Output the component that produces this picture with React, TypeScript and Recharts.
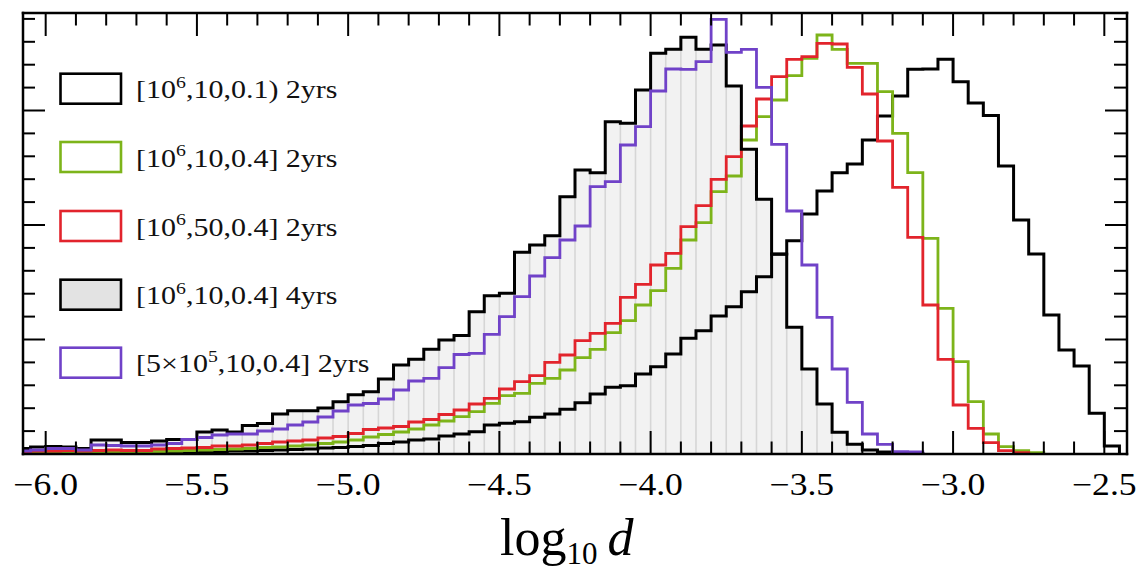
import { ComposedChart, Line, Area, XAxis, YAxis, ReferenceLine } from "recharts";

const W = 1140;
const H = 574;
const SERIF = "'Liberation Serif', 'Times New Roman', serif";

// left edge of every 0.05-wide bin (last entry closes the final bin)
const binEdges = [
  -6.1, -6.05, -6.0, -5.95, -5.9, -5.85, -5.8, -5.75, -5.7, -5.65,
  -5.6, -5.55, -5.5, -5.45, -5.4, -5.35, -5.3, -5.25, -5.2, -5.15,
  -5.1, -5.05, -5.0, -4.95, -4.9, -4.85, -4.8, -4.75, -4.7, -4.65,
  -4.6, -4.55, -4.5, -4.45, -4.4, -4.35, -4.3, -4.25, -4.2, -4.15,
  -4.1, -4.05, -4.0, -3.95, -3.9, -3.85, -3.8, -3.75, -3.7, -3.65,
  -3.6, -3.55, -3.5, -3.45, -3.4, -3.35, -3.3, -3.25, -3.2, -3.15,
  -3.1, -3.05, -3.0, -2.95, -2.9, -2.85, -2.8, -2.75, -2.7, -2.65,
  -2.6, -2.55, -2.5, -2.45, -2.4,
];

// [1e6,10,0.1) 2yrs
const black2yr = [
  0.5, 1, 1, 1, 1, 1, 1, 1.5, 1.5, 1.5,
  2, 2, 2, 2.5, 3, 3, 3.5, 4, 4.5, 5,
  6, 6.5, 7.5, 8.5, 10.5, 12, 14, 15, 18, 20,
  22.3, 29, 30.7, 32.3, 36.7, 40, 44.7, 51.3, 60, 66.7,
  68.3, 80, 87.3, 100, 115.7, 123.3, 138, 147.3, 162.3, 177.3,
  200, 213.3, 240, 263, 281.3, 290, 314, 338, 358, 384.7,
  385, 394.7, 372.3, 351, 338.5, 288, 234, 200, 139, 104,
  88, 40.7, 8, 0,
];

// [1e6,10,0.4] 2yrs
const green2yr = [
  1, 1.5, 1.5, 1.5, 1.5, 2, 2, 2, 2.5, 2.5,
  3, 3.5, 4, 4.5, 5, 5.5, 6.5, 7, 8, 9,
  10.5, 12, 14, 17, 19.5, 22, 25, 29, 33, 37.3,
  42.3, 50.7, 58.3, 60.7, 70.7, 75.7, 84, 96.3, 104.7, 121.3,
  133.3, 149, 163.3, 185.7, 214, 231.3, 262.3, 278, 314, 337.3,
  354, 378.3, 395.7, 419, 404.7, 390.7, 390.7, 362.3, 320.7, 281.3,
  215.7, 145.7, 92.3, 52.3, 20, 7.3, 3.3, 1.3, 0,
];

// [1e6,50,0.4] 2yrs
const red2yr = [
  2.5, 3, 3, 3.5, 3, 3.5, 4, 3.5, 3.5, 5,
  5.5, 6, 6.5, 8, 8, 9, 10.5, 12, 13, 14,
  16, 17.5, 20.5, 24.5, 26, 27.5, 32, 34.5, 39.5, 44,
  50, 55.7, 65, 72.3, 78.3, 91.7, 99, 113.3, 120.7, 130.7,
  156.7, 169.7, 189, 200.7, 227.3, 248.3, 274.7, 297.3, 328, 355,
  377.3, 394.7, 397.3, 410.7, 410, 386.7, 360, 313, 266.7, 216.7,
  149, 94.7, 49, 25.7, 11.3, 3.3, 1.3, 0,
];

// [1e6,10,0.4] 4yrs (filled)
const black4yr = [
  5.5, 7, 7.5, 7, 5.5, 14, 14, 11.5, 11.5, 13,
  14.5, 14.5, 22, 24, 22, 28.5, 30.5, 40, 43.3, 43.3,
  46, 52.3, 59.3, 62.3, 75, 89, 94.7, 104.7, 114, 118.5,
  142.3, 158.3, 160.7, 201.7, 209, 218.3, 257.3, 284, 281.3, 332.3,
  330.7, 364, 400.7, 404.7, 416.7, 404.7, 409, 368, 304.7, 254.7,
  199.7, 126.7, 85, 50, 21.7, 9.7, 4, 2, 1, 0.5,
  0,
];

// [5e5,10,0.4] 2yrs
const purple2yr = [
  3, 4, 5.5, 5.5, 4, 9, 8.5, 8, 8, 9,
  10.5, 14.5, 16.5, 19, 20, 20, 23, 25, 29, 32,
  37, 43, 49, 50.5, 55, 64, 73, 75.7, 86.3, 99.5,
  100.7, 119.7, 137.3, 157.3, 178, 196.3, 214, 228, 267.3, 272.3,
  309, 327.3, 363, 385, 384.7, 392.3, 434.7, 401.7, 404.7, 366.7,
  309.7, 243, 189, 136.7, 85, 51.7, 20, 9.7, 2.3, 2,
  0,
];

const xTicks = [
  -6.0, -5.9, -5.8, -5.7, -5.6, -5.5, -5.4, -5.3, -5.2, -5.1,
  -5.0, -4.9, -4.8, -4.7, -4.6, -4.5, -4.4, -4.3, -4.2, -4.1,
  -4.0, -3.9, -3.8, -3.7, -3.6, -3.5, -3.4, -3.3, -3.2, -3.1,
  -3.0, -2.9, -2.8, -2.7, -2.6, -2.5,
];
const xMajor = [-6.0, -5.5, -5.0, -4.5, -4.0, -3.5, -3.0, -2.5];
const xLabels = ["−6.0", "−5.5", "−5.0", "−4.5", "−4.0", "−3.5", "−3.0", "−2.5"];

const yTicks = [
  0, 22.9, 45.8, 68.7, 91.6, 114.5, 137.4, 160.3, 183.2, 206.1,
  229, 251.9, 274.8, 297.7, 320.6, 343.5, 366.4, 389.3, 412.2, 435.1,
];
const yMajor = [0, 114.5, 229, 343.5];

const legendItems = [
  { pre: "[10", sup: "6", post: ",10,0.1) 2yrs", color: "#000000", fill: "none" },
  { pre: "[10", sup: "6", post: ",10,0.4] 2yrs", color: "#7db41a", fill: "none" },
  { pre: "[10", sup: "6", post: ",50,0.4] 2yrs", color: "#e2242c", fill: "none" },
  { pre: "[10", sup: "6", post: ",10,0.4] 4yrs", color: "#000000", fill: "#e3e3e3" },
  { pre: "[5×10", sup: "5", post: ",10,0.4] 2yrs", color: "#7042c8", fill: "none" },
];

const rows = binEdges.map((x, i) => ({
  x,
  black2yr: black2yr[i] ?? null,
  green2yr: green2yr[i] ?? null,
  red2yr: red2yr[i] ?? null,
  black4yr: black4yr[i] ?? null,
  purple2yr: purple2yr[i] ?? null,
}));

// light bar edges inside the filled histogram
const edgeLines = binEdges
  .map((x, i) => ({ x, top: i > 0 ? Math.max(black4yr[i - 1] ?? 0, black4yr[i] ?? 0) : 0 }))
  .filter((e) => e.top > 0 && e.x > -6.075);

const frameLine = { stroke: "#000", strokeWidth: 2.5, strokeLinecap: "square" as const };

const BottomTick = (props: any) => {
  const { x, y, payload } = props;
  const i = xMajor.indexOf(payload.value);
  const len = i >= 0 ? 23 : 12.5;
  return (
    <g>
      <line x1={x} x2={x} y1={y} y2={y - len} stroke="#000" strokeWidth={2} />
      {i >= 0 && (
        <text transform={`translate(${x},${y + 41}) scale(1.15,1)`} textAnchor="middle"
          fontFamily={SERIF} fontSize={31} fill="#000">
          {xLabels[i]}
        </text>
      )}
    </g>
  );
};

const TopTick = (props: any) => {
  const { x, y, payload } = props;
  const len = xMajor.includes(payload.value) ? 23 : 12.5;
  return <line x1={x} x2={x} y1={y} y2={y + len} stroke="#000" strokeWidth={2} />;
};

const LeftTick = (props: any) => {
  const { x, y, payload } = props;
  const len = yMajor.includes(payload.value) ? 22 : 12;
  return <line x1={x} x2={x + len} y1={y} y2={y} stroke="#000" strokeWidth={2} />;
};

const RightTick = (props: any) => {
  const { x, y, payload } = props;
  const len = yMajor.includes(payload.value) ? 22 : 13;
  return <line x1={x} x2={x - len} y1={y} y2={y} stroke="#000" strokeWidth={2} />;
};

const legendY = [88.7, 157, 226, 294.7, 362.7];

export default function App() {
  return (
    <div style={{ position: "absolute", left: 0, top: 0, width: W, height: H, background: "#fff" }}>
      <ComposedChart width={W} height={H} data={rows} margin={{ top: 0, right: 0, bottom: 0, left: 0 }}>
        <XAxis xAxisId="b" dataKey="x" type="number" orientation="bottom" domain={[-6.075, -2.425]}
          allowDataOverflow ticks={xTicks} interval={0} tickSize={0} tickMargin={0} tickLine={false}
          axisLine={frameLine} tick={<BottomTick />} height={120} />
        <XAxis xAxisId="t" dataKey="x" type="number" orientation="top" domain={[-6.075, -2.425]}
          allowDataOverflow ticks={xTicks} interval={0} tickSize={0} tickMargin={0} tickLine={false}
          axisLine={frameLine} tick={<TopTick />} height={13} />
        <YAxis yAxisId="l" type="number" domain={[0, 441]} allowDataOverflow ticks={yTicks}
          interval={0} tickSize={0} tickMargin={0} tickLine={false} axisLine={frameLine}
          tick={<LeftTick />} width={23} />
        <YAxis yAxisId="r" orientation="right" type="number" domain={[0, 441]} allowDataOverflow
          ticks={yTicks} interval={0} tickSize={0} tickMargin={0} tickLine={false} axisLine={frameLine}
          tick={<RightTick />} width={13} />

        <Area xAxisId="b" yAxisId="l" type="stepAfter" dataKey="black4yr" stroke="none"
          fill="#f2f2f2" fillOpacity={1} isAnimationActive={false} dot={false} activeDot={false} />
        {edgeLines.map((e) => (
          <ReferenceLine key={e.x} xAxisId="b" yAxisId="l" ifOverflow="hidden"
            segment={[{ x: e.x, y: 0 }, { x: e.x, y: e.top }]} stroke="#d6d6d6" strokeWidth={1.6} />
        ))}

        <Line xAxisId="b" yAxisId="l" type="stepAfter" dataKey="black2yr" stroke="#000" strokeWidth={3}
          strokeLinejoin="miter" dot={false} activeDot={false} isAnimationActive={false} />
        <Line xAxisId="b" yAxisId="l" type="stepAfter" dataKey="green2yr" stroke="#7db41a" strokeWidth={2.8}
          strokeLinejoin="miter" dot={false} activeDot={false} isAnimationActive={false} />
        <Line xAxisId="b" yAxisId="l" type="stepAfter" dataKey="red2yr" stroke="#e2242c" strokeWidth={2.8}
          strokeLinejoin="miter" dot={false} activeDot={false} isAnimationActive={false} />
        <Line xAxisId="b" yAxisId="l" type="stepAfter" dataKey="black4yr" stroke="#000" strokeWidth={3}
          strokeLinejoin="miter" dot={false} activeDot={false} isAnimationActive={false} />
        <Line xAxisId="b" yAxisId="l" type="stepAfter" dataKey="purple2yr" stroke="#7042c8" strokeWidth={2.8}
          strokeLinejoin="miter" dot={false} activeDot={false} isAnimationActive={false} />
      </ComposedChart>

      <svg width={W} height={H} style={{ position: "absolute", left: 0, top: 0, pointerEvents: "none" }}>
        {legendItems.map((it, k) => {
          const cy = legendY[k];
          return (
            <g key={k}>
              <rect x={60.5} y={cy - 15} width={60.5} height={30} fill={it.fill === "none" ? "#fff" : it.fill}
                stroke={it.color} strokeWidth={2.6} />
              <text transform={`translate(136,${cy + 9.6}) scale(1.2,1)`} fontFamily={SERIF} fontSize={25} fill="#111">
                {it.pre}
                <tspan dy={-10.5} fontSize={16.5}>{it.sup}</tspan>
                <tspan dy={10.5}>{it.post}</tspan>
              </text>
            </g>
          );
        })}
        <text x={500} y={555} fontFamily={SERIF} fontSize={52} fill="#000">
          log
          <tspan dy={9} fontSize={31}>10</tspan>
          <tspan dy={-9} dx={10} fontStyle="italic">d</tspan>
        </text>
      </svg>
    </div>
  );
}
